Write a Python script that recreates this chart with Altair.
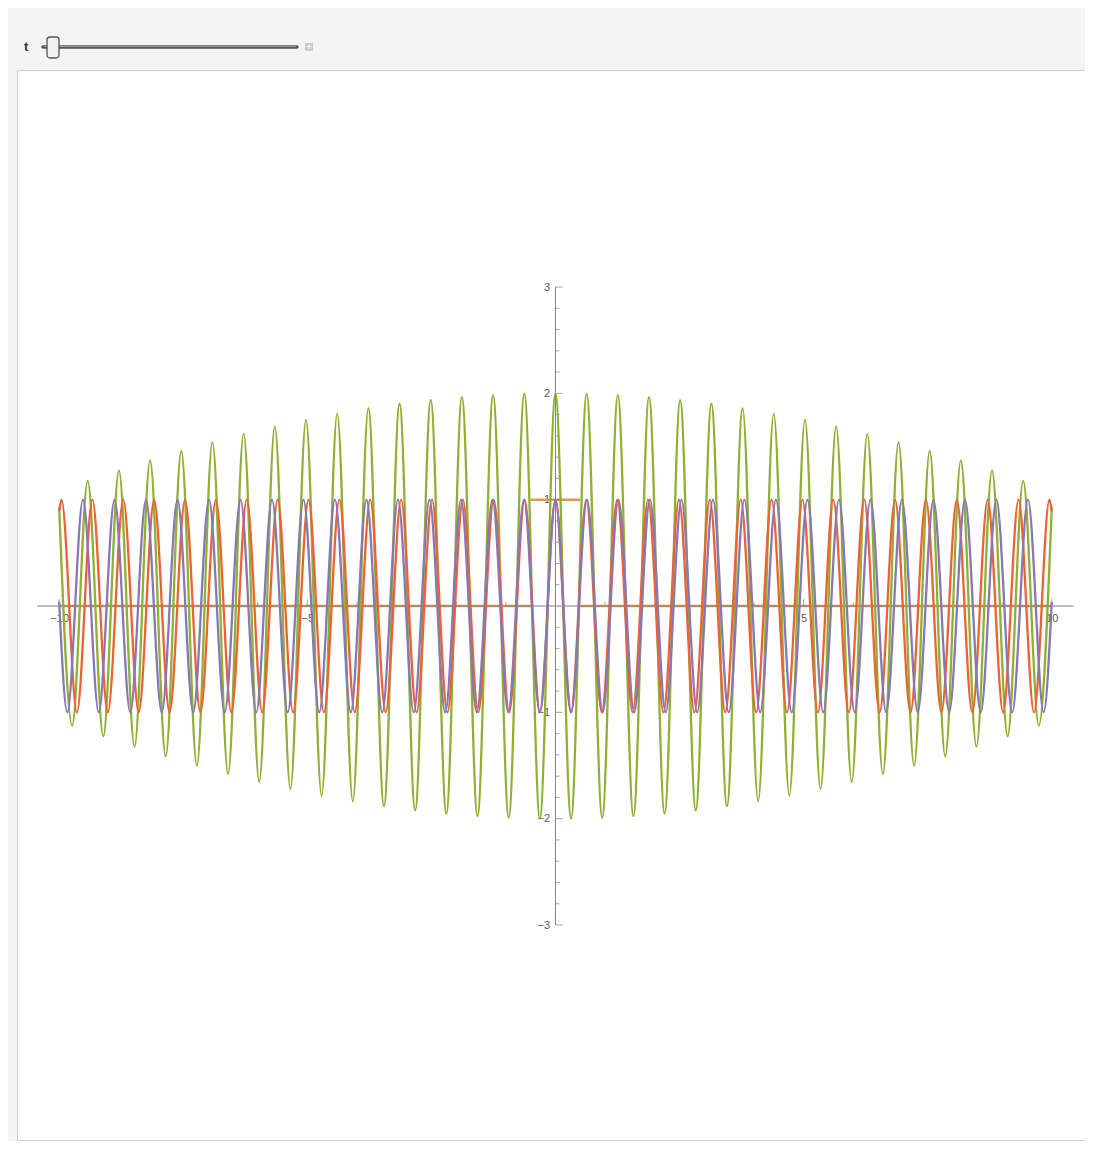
import altair as alt
import pandas as pd

# ---------------- data ----------------
# red-orange curve: positions of its crests/troughs (plus the two end points)
orange_x = [-10.0, -9.954, -9.643, -9.331, -9.020, -8.709, -8.398, -8.087,
            -7.776, -7.465, -7.154, -6.843, -6.532, -6.221, -5.910, -5.599,
            -5.288, -4.977, -4.666, -4.355, -4.044, -3.733, -3.422, -3.110,
            -2.799, -2.488, -2.177, -1.866, -1.555, -1.244, -0.933, -0.622,
            -0.311, 0.0, 0.311, 0.622, 0.933, 1.244, 1.555, 1.866,
            2.177, 2.488, 2.799, 3.110, 3.422, 3.733, 4.044, 4.355,
            4.666, 4.977, 5.288, 5.599, 5.910, 6.221, 6.532, 6.843,
            7.154, 7.465, 7.776, 8.087, 8.398, 8.709, 9.020, 9.331,
            9.643, 9.954, 10.0]
orange_y = [0.89, 1, -1, 1, -1, 1, -1, 1,
            -1, 1, -1, 1, -1, 1, -1, 1,
            -1, 1, -1, 1, -1, 1, -1, 1,
            -1, 1, -1, 1, -1, 1, -1, 1,
            -1, 1, -1, 1, -1, 1, -1, 1,
            -1, 1, -1, 1, -1, 1, -1, 1,
            -1, 1, -1, 1, -1, 1, -1, 1,
            -1, 1, -1, 1, -1, 1, -1, 1,
            -1, 1, 0.89]

# purple curve
purple_x = [-10.0, -9.837, -9.520, -9.203, -8.885, -8.568, -8.251, -7.933,
            -7.616, -7.299, -6.981, -6.664, -6.347, -6.029, -5.712, -5.395,
            -5.077, -4.760, -4.443, -4.125, -3.808, -3.491, -3.173, -2.856,
            -2.539, -2.221, -1.904, -1.587, -1.269, -0.952, -0.635, -0.317,
            0.0, 0.317, 0.635, 0.952, 1.269, 1.587, 1.904, 2.221,
            2.539, 2.856, 3.173, 3.491, 3.808, 4.125, 4.443, 4.760,
            5.077, 5.395, 5.712, 6.029, 6.347, 6.664, 6.981, 7.299,
            7.616, 7.933, 8.251, 8.568, 8.885, 9.203, 9.520, 9.837,
            10.0]
purple_y = [0.04, -1, 1, -1, 1, -1, 1, -1,
            1, -1, 1, -1, 1, -1, 1, -1,
            1, -1, 1, -1, 1, -1, 1, -1,
            1, -1, 1, -1, 1, -1, 1, -1,
            1, -1, 1, -1, 1, -1, 1, -1,
            1, -1, 1, -1, 1, -1, 1, -1,
            1, -1, 1, -1, 1, -1, 1, -1,
            1, -1, 1, -1, 1, -1, 1, -1,
            0.04]

# green curve (sum of the two, beating envelope)
green_x = [-10.0, -9.739, -9.425, -9.111, -8.796, -8.482, -8.168, -7.854,
           -7.540, -7.226, -6.912, -6.597, -6.283, -5.969, -5.655, -5.341,
           -5.027, -4.712, -4.398, -4.084, -3.770, -3.456, -3.142, -2.827,
           -2.513, -2.199, -1.885, -1.571, -1.257, -0.942, -0.628, -0.314,
           0.0, 0.314, 0.628, 0.942, 1.257, 1.571, 1.885, 2.199,
           2.513, 2.827, 3.142, 3.456, 3.770, 4.084, 4.398, 4.712,
           5.027, 5.341, 5.655, 5.969, 6.283, 6.597, 6.912, 7.226,
           7.540, 7.854, 8.168, 8.482, 8.796, 9.111, 9.425, 9.739,
           10.0]
green_y = [0.93, -1.124, 1.176, -1.226, 1.275, -1.323, 1.369, -1.414,
           1.458, -1.500, 1.541, -1.580, 1.618, -1.654, 1.689, -1.722,
           1.753, -1.782, 1.810, -1.836, 1.860, -1.882, 1.902, -1.921,
           1.937, -1.952, 1.965, -1.975, 1.984, -1.991, 1.996, -1.999,
           2.000, -1.999, 1.996, -1.991, 1.984, -1.975, 1.965, -1.952,
           1.937, -1.921, 1.902, -1.882, 1.860, -1.836, 1.810, -1.782,
           1.753, -1.722, 1.689, -1.654, 1.618, -1.580, 1.541, -1.500,
           1.458, -1.414, 1.369, -1.323, 1.275, -1.226, 1.176, -1.124,
           0.93]

# orange box function (three pieces, no vertical jumps)
box_x = [-10.0, -0.5, -0.5, 0.5, 0.5, 10.0]
box_y = [0, 0, 1, 1, 0, 0]
box_piece = [0, 0, 1, 1, 2, 2]

# axes
x_axis_span = [-10.44, 10.44]
y_axis_span = [-3, 3]
x_major = [-10, -5, 5, 10]
x_minor = [-9, -8, -7, -6, -4, -3, -2, -1, 1, 2, 3, 4, 6, 7, 8, 9]
y_major = [-3, -2, -1, 1, 2, 3]
y_minor = [-2.8, -2.6, -2.4, -2.2, -1.8, -1.6, -1.4, -1.2, -0.8, -0.6, -0.4, -0.2,
           0.2, 0.4, 0.6, 0.8, 1.2, 1.4, 1.6, 1.8, 2.2, 2.4, 2.6, 2.8]

assert len(orange_x) == len(orange_y)
assert len(purple_x) == len(purple_y)
assert len(green_x) == len(green_y)

# ---------------- chart ----------------
W, H = 1068, 1070
x_scale = alt.Scale(domain=[-10.85, 10.67], nice=False, zero=False)
y_scale = alt.Scale(domain=[-5.022, 5.041], nice=False, zero=False)

lab = dict(labelFont="Liberation Sans", labelFontSize=11, labelColor="#5a5a5a",
           domain=False, ticks=False, grid=False, title=None,
           labelOverlap=False, labelFlush=False)
X = alt.X("x:Q", scale=x_scale,
          axis=alt.Axis(values=x_major, orient="bottom", offset=-534,
                        labelPadding=6, **lab))
Y = alt.Y("y:Q", scale=y_scale,
          axis=alt.Axis(values=y_major, orient="left", offset=-538.5,
                        labelPadding=6, **lab))

box_df = pd.DataFrame({"x": box_x, "y": box_y, "piece": box_piece})
box = alt.Chart(box_df).mark_line(color="#D89C4C", strokeWidth=2.4).encode(
    x=X, y=Y, detail="piece:N")

xaxis_df = pd.DataFrame({"x": [x_axis_span[0]], "x2": [x_axis_span[1]], "y": [0]})
yaxis_df = pd.DataFrame({"x": [0], "y": [y_axis_span[0]], "y2": [y_axis_span[1]]})
axis_col = "#808080"
xline = alt.Chart(xaxis_df).mark_rule(color=axis_col, strokeWidth=1).encode(
    x=X, x2="x2:Q", y=Y)
yline = alt.Chart(yaxis_df).mark_rule(color=axis_col, strokeWidth=1).encode(
    x=X, y=Y, y2="y2:Q")

xmaj = alt.Chart(pd.DataFrame({"x": x_major, "y": [0] * len(x_major)})).mark_tick(
    orient="vertical", size=7, thickness=1, yOffset=-3.5, color=axis_col).encode(x=X, y=Y)
xmin = alt.Chart(pd.DataFrame({"x": x_minor, "y": [0] * len(x_minor)})).mark_tick(
    orient="vertical", size=4, thickness=1, yOffset=-2, color=axis_col).encode(x=X, y=Y)
ymaj = alt.Chart(pd.DataFrame({"x": [0] * len(y_major), "y": y_major})).mark_tick(
    orient="horizontal", size=7, thickness=1, xOffset=3.5, color=axis_col).encode(x=X, y=Y)
ymin = alt.Chart(pd.DataFrame({"x": [0] * len(y_minor), "y": y_minor})).mark_tick(
    orient="horizontal", size=4, thickness=1, xOffset=2, color=axis_col).encode(x=X, y=Y)

def curve(xs, ys, color):
    return alt.Chart(pd.DataFrame({"x": xs, "y": ys})).mark_line(
        color=color, strokeWidth=2.3, interpolate="monotone").encode(x=X, y=Y)

green = curve(green_x, green_y, "#8FB032")
orange = curve(orange_x, orange_y, "#EB6235")
purple = curve(purple_x, purple_y, "#8778B3")

# Manipulate control bar (slider "t")
one = pd.DataFrame({"k": [0]})
t_label = alt.Chart(one).mark_text(text="t", font="Liberation Sans", fontSize=13,
                                   fontWeight="bold", color="#333333",
                                   align="left", baseline="middle").encode(
    x=alt.value(7), y=alt.value(-23))
track = alt.Chart(one).mark_rule(color="#555555", strokeWidth=3.5, strokeCap="round").encode(
    x=alt.value(26), x2=alt.value(280), y=alt.value(-23))
track_in = alt.Chart(one).mark_rule(color="#9a9a9a", strokeWidth=1).encode(
    x=alt.value(27), x2=alt.value(279), y=alt.value(-23.5))
thumb = alt.Chart(one).mark_rect(fill="#f0f0f0", stroke="#555555", strokeWidth=1.3,
                                 cornerRadius=3).encode(
    x=alt.value(30), x2=alt.value(42), y=alt.value(-33), y2=alt.value(-12))
plus_box = alt.Chart(one).mark_rect(fill="#c9c9c9").encode(
    x=alt.value(288), x2=alt.value(296), y=alt.value(-27), y2=alt.value(-19))
plus_txt = alt.Chart(one).mark_text(text="+", fontSize=9, color="white",
                                    fontWeight="bold", baseline="middle").encode(
    x=alt.value(292), y=alt.value(-23))

chart = alt.layer(
    box, xline, yline, xmaj, xmin, ymaj, ymin, green, orange, purple,
    track, track_in, thumb, plus_box, plus_txt, t_label
).properties(
    width=W, height=H,
    autosize="none",
    padding={"left": 9, "top": 62, "right": 0, "bottom": 1},
    background="#f4f4f4",
).configure_view(stroke="#cfcfcf", fill="white", strokeWidth=1)

chart.save("out.html", embed_options={"renderer": "svg", "actions": False})
